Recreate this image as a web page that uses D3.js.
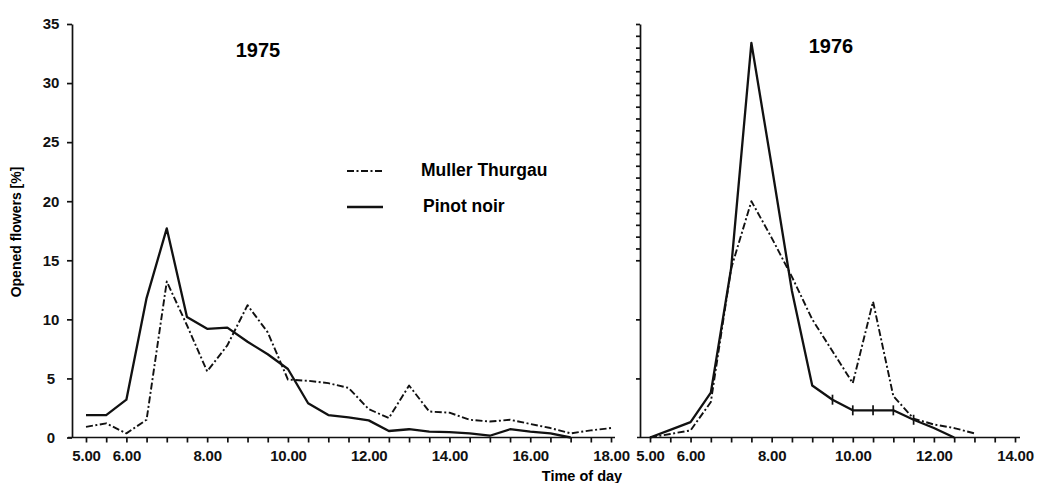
<!DOCTYPE html>
<html>
<head>
<meta charset="utf-8">
<script src="https://cdn.jsdelivr.net/npm/d3@7"></script>
<style>
  body { margin: 0; background: #fff; }
  svg { font-family: "Liberation Sans", Arial, Helvetica, sans-serif; }
  .axis path, .axis line { stroke: #111; stroke-width: 1.7; }
  .axis text { font-size: 15px; font-weight: bold; fill: #111; }
  .series { fill: none; stroke: #111; }
</style>
</head>
<body>
<div id="chart"></div>
<script>
// 1975 - half-hourly readings
const hours1975 = [5.0, 5.5, 6.0, 6.5, 7.0, 7.5, 8.0, 8.5, 9.0, 9.5, 10.0, 10.5, 11.0, 11.5, 12.0,
                   12.5, 13.0, 13.5, 14.0, 14.5, 15.0, 15.5, 16.0, 16.5, 17.0, 17.5, 18.0];
const muller1975 = [0.9, 1.2, 0.35, 1.5, 13.2, 9.5, 5.6, 7.8, 11.2, 8.9, 4.9, 4.8, 4.6, 4.2, 2.4,
                    1.65, 4.4, 2.2, 2.1, 1.5, 1.35, 1.5, 1.15, 0.8, 0.35, 0.6, 0.8];
const pinot1975 = [1.9, 1.9, 3.2, 11.8, 17.7, 10.2, 9.2, 9.3, 8.1, 7.05, 5.8, 2.9, 1.9, 1.7, 1.45,
                   0.55, 0.7, 0.5, 0.45, 0.35, 0.15, 0.7, 0.5, 0.35, 0, null, null];

// 1976
const hours1976 = [5.0, 5.5, 6.0, 6.5, 7.0, 7.5, 8.0, 8.5, 9.0, 9.5, 10.0, 10.5, 11.0, 11.5, 12.0, 12.5, 13.0];
const muller1976 = [0, 0.3, 0.6, 3.0, 14.3, 20.0, 16.9, 13.6, 10.0, 7.3, 4.6, 11.5, 3.5, 1.6, 1.1, 0.8, 0.35];
const pinot1976 = [0, 0.65, 1.3, 3.8, 14.3, 33.4, 23.0, 12.4, 4.4, 3.2, 2.3, 2.3, 2.3, 1.5, 0.8, 0, null];
// hours where the 1976 Pinot noir curve carries small vertical marks
const markHours1976 = [9.5, 10.0, 10.5, 11.0, 11.5];

// axis ticks and labels
const yTicks = [0, 5, 10, 15, 20, 25, 30, 35];
const rightYTicks = [5, 10].concat(d3.range(15, 36));
const ticks1975 = d3.range(5, 18.01, 0.5);
const labels1975 = [5, 6, 8, 10, 12, 14, 16, 18];
const ticks1976 = d3.range(5, 14.01, 0.5);
const labels1976 = [5, 6, 8, 10, 12, 14];

const seriesNames = ["Muller Thurgau", "Pinot noir"];
const titles = ["1975", "1976"];

const W = 1037, H = 483;
const leftAxisX = 72, rightAxisX = 640;
const dashPattern = "7,2.5,2,2.5";

const svg = d3.select("#chart").append("svg")
  .attr("width", W)
  .attr("height", H);

const y = d3.scaleLinear().domain([0, 35]).range([437.5, 24]);
const xLeft = d3.scaleLinear().domain([5, 18]).range([86, 611]);
const xRight = d3.scaleLinear().domain([5, 14]).range([650, 1015]);

const fmt = d => d.toFixed(2);

// left y axis
const yAxisG = svg.append("g")
  .attr("class", "axis")
  .attr("transform", "translate(" + leftAxisX + ",0)")
  .call(d3.axisLeft(y).tickValues(yTicks).tickSize(5).tickSizeOuter(0));
yAxisG.selectAll("text").attr("x", -21).attr("text-anchor", "middle");

// right y axis (no labels, small ticks)
svg.append("g")
  .attr("class", "axis")
  .attr("transform", "translate(" + rightAxisX + ",0)")
  .call(d3.axisLeft(y).tickValues(rightYTicks).tickSize(4).tickSizeOuter(0).tickFormat(""));

// bottom axes
function bottomAxis(scale, ticks, labels, x0, x1) {
  const g = svg.append("g")
    .attr("class", "axis")
    .attr("transform", "translate(0," + y(0) + ")")
    .call(d3.axisBottom(scale).tickValues(ticks).tickSize(5).tickPadding(6)
      .tickFormat(d => labels.includes(d) ? fmt(d) : ""));
  g.select(".domain").remove();
  g.append("line")
    .attr("x1", x0).attr("x2", x1)
    .attr("y1", 0).attr("y2", 0);
  g.selectAll("text").attr("dy", "0.8em").style("letter-spacing", "-0.2px");
}
bottomAxis(xLeft, ticks1975, labels1975, leftAxisX - 4, xLeft(18) + 4);
bottomAxis(xRight, ticks1976, labels1976, rightAxisX - 3, xRight(14) + 5);

// curves
function drawSeries(hours, values, x, dashed) {
  const line = d3.line()
    .defined(d => d[1] != null)
    .x(d => x(d[0]))
    .y(d => y(d[1]));
  svg.append("path")
    .datum(d3.zip(hours, values))
    .attr("class", "series")
    .attr("d", line)
    .attr("stroke-width", dashed ? 1.9 : 2.3)
    .attr("stroke-dasharray", dashed ? dashPattern : null)
    .attr("stroke-linejoin", "round");
}
drawSeries(hours1975, muller1975, xLeft, true);
drawSeries(hours1975, pinot1975, xLeft, false);
drawSeries(hours1976, muller1976, xRight, true);
drawSeries(hours1976, pinot1976, xRight, false);

// small vertical marks on the 1976 Pinot noir curve
svg.append("g").selectAll("line")
  .data(markHours1976)
  .join("line")
  .attr("x1", d => xRight(d)).attr("x2", d => xRight(d))
  .attr("y1", d => y(pinot1976[hours1976.indexOf(d)]) - 5)
  .attr("y2", d => y(pinot1976[hours1976.indexOf(d)]) + 5)
  .attr("stroke", "#111")
  .attr("stroke-width", 1.7);

// panel titles
svg.append("text")
  .attr("x", 258).attr("y", 57)
  .attr("text-anchor", "middle")
  .style("font-size", "20px").style("font-weight", "bold")
  .text(titles[0]);
svg.append("text")
  .attr("x", 831).attr("y", 53)
  .attr("text-anchor", "middle")
  .style("font-size", "20px").style("font-weight", "bold")
  .text(titles[1]);

// legend
const legend = svg.append("g");
seriesNames.forEach(function(name, i) {
  const ly = 171 + i * 36;
  legend.append("line")
    .attr("x1", 347).attr("x2", 383)
    .attr("y1", ly).attr("y2", ly)
    .attr("stroke", "#111")
    .attr("stroke-width", i === 0 ? 1.9 : 2.3)
    .attr("stroke-dasharray", i === 0 ? dashPattern : null);
  legend.append("text")
    .attr("x", i === 0 ? 421 : 423)
    .attr("y", ly + 5)
    .style("font-size", "17.5px").style("font-weight", "bold")
    .text(name);
});

// axis titles
svg.append("text")
  .attr("transform", "translate(21,232) rotate(-90)")
  .attr("text-anchor", "middle")
  .style("font-size", "14px").style("font-weight", "bold")
  .text("Opened flowers [%]");
svg.append("text")
  .attr("x", 582).attr("y", 481)
  .attr("text-anchor", "middle")
  .style("font-size", "14.5px").style("font-weight", "bold")
  .text("Time of day");
</script>
</body>
</html>
